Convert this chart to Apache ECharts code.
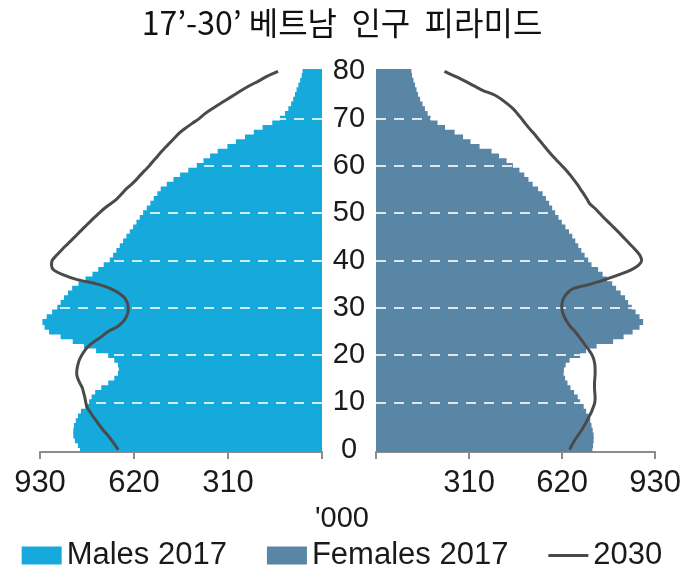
<!DOCTYPE html>
<html>
<head>
<meta charset="utf-8">
<script src="https://cdn.jsdelivr.net/npm/echarts@6/dist/echarts.min.js"></script>
<style>
  html, body { margin: 0; padding: 0; background: #fff; }
  #chart { width: 684px; height: 578px; }
</style>
</head>
<body>
<div id="chart"></div>
<script>
// ages 0..80, bottom to top
var ages = ['0','1','2','3','4','5','6','7','8','9','10','11','12','13','14','15','16','17','18','19','20',
  '21','22','23','24','25','26','27','28','29','30','31','32','33','34','35','36','37','38','39','40',
  '41','42','43','44','45','46','47','48','49','50','51','52','53','54','55','56','57','58','59','60',
  '61','62','63','64','65','66','67','68','69','70','71','72','73','74','75','76','77','78','79','80']
var ageTicks = ['0','10','20','30','40','50','60','70','80']
var gridAges = ['10','20','30','40','50','60','70']
var popTicks = [310, 620, 930]

// '000, index = age
var males2017 = [798,805,815,820,820,818,812,805,795,780,768,760,748,728,705,685,673,670,673,685,705,
  745,785,822,862,900,915,922,908,890,873,862,851,838,824,803,780,757,738,720,700,
  689,678,667,656,645,634,623,612,601,590,578,566,555,543,532,512,490,468,441,413,
  391,369,344,312,284,254,225,196,164,139,122,111,102,95,89,84,78,72,67,64]
var females2017 = [721,723,725,725,722,718,714,708,700,692,680,672,660,648,638,630,625,626,632,645,680,
  700,735,790,825,855,878,890,878,865,852,840,830,815,800,787,770,755,740,718,707,
  695,684,674,664,654,643,631,619,608,597,587,577,566,555,540,522,508,494,478,456,
  435,410,385,345,315,290,262,230,205,182,172,163,155,147,140,135,130,125,120,118]
var males2030 = [672,683,694,706,720,732,743,755,765,775,779,782,786,790,798,805,809,808,805,800,792,
  782,768,748,725,705,675,657,646,640,639,642,650,668,695,740,810,855,885,892,890,
  877,862,847,831,815,800,784,768,752,735,718,697,677,662,648,630,614,600,585,570,
  557,543,530,515,500,485,470,450,428,405,387,365,340,315,290,265,238,208,180,145]
var females2030 = [645,653,662,673,684,693,702,710,718,724,729,730,729,728,728,729,730,730,729,726,720,
  710,698,687,675,663,648,637,628,622,619,620,625,636,655,715,765,810,850,875,885,
  880,868,853,838,823,808,792,776,760,745,730,712,703,693,682,672,660,648,635,620,
  605,590,576,563,550,537,524,510,497,485,472,458,440,420,395,355,325,295,262,228]

var maleColor = '#16a9dc'
var femaleColor = '#5a86a6'
var lineColor = '#4a4a4a'
var font = "'Liberation Sans', Arial, sans-serif"

var chart = echarts.init(document.getElementById('chart'))

// white dashed gridlines drawn over the bars
function gridMarks() {
  return {
    silent: true,
    symbol: 'none',
    label: { show: false },
    lineStyle: { color: '#ffffff', opacity: 0.8, type: [10, 8], width: 2 },
    data: gridAges.map(function (a) { return { yAxis: a } })
  }
}

function popAxis(idx, inverse) {
  return {
    type: 'value',
    gridIndex: idx,
    inverse: inverse,
    min: 0,
    max: 930,
    interval: 310,
    splitLine: { show: false },
    axisLine: { show: true, lineStyle: { color: '#8c8c8c', width: 2 } },
    axisTick: { show: true, length: 7, lineStyle: { color: '#8c8c8c', width: 2 } },
    axisLabel: {
      margin: 16,
      fontSize: 31,
      color: '#1a1a1a',
      fontFamily: font,
      formatter: function (v) { return popTicks.indexOf(v) >= 0 ? String(v) : '' }
    }
  }
}

chart.setOption({
  animation: false,
  title: [{
    text: '17’-30’ 베트남  인구  피라미드',
    left: 'center',
    top: 2,
    textStyle: { fontFamily: "'Noto Sans CJK KR', sans-serif", fontWeight: 'normal', fontSize: 32, color: '#111' }
  }, {
    text: "'000",
    left: 'center',
    top: 499,
    textStyle: { fontFamily: font, fontWeight: 'normal', fontSize: 29, color: '#1a1a1a' }
  }],
  legend: {
    bottom: 2,
    left: 'center',
    itemWidth: 40,
    itemHeight: 18,
    itemGap: 40,
    textStyle: { fontFamily: font, fontSize: 31, color: '#1a1a1a' },
    data: [
      { name: 'Males 2017', icon: 'rect' },
      { name: 'Females 2017', icon: 'rect' },
      { name: '2030', icon: 'path://M0,0H40V3H0Z' }
    ]
  },
  grid: [
    { left: 40, right: 362, top: 69, height: 383 },
    { left: 376, right: 27, top: 69, height: 383 }
  ],
  xAxis: [popAxis(0, true), popAxis(1, false)],
  yAxis: [{
    type: 'category',
    gridIndex: 0,
    data: ages,
    position: 'right',
    axisLine: { show: false },
    axisTick: { show: false },
    axisLabel: {
      interval: 0,
      margin: 27,
      align: 'center',
      fontSize: 29,
      color: '#1a1a1a',
      fontFamily: font,
      formatter: function (v) { return ageTicks.indexOf(v) >= 0 ? v : '' }
    }
  }, {
    type: 'category',
    gridIndex: 1,
    data: ages,
    axisLine: { show: false },
    axisTick: { show: false },
    axisLabel: { show: false }
  }],
  series: [{
    name: 'Males 2017',
    type: 'bar',
    xAxisIndex: 0,
    yAxisIndex: 0,
    barWidth: 6,
    itemStyle: { color: maleColor },
    data: males2017,
    markLine: gridMarks(),
    z: 2
  }, {
    name: 'Females 2017',
    type: 'bar',
    xAxisIndex: 1,
    yAxisIndex: 1,
    barWidth: 6,
    itemStyle: { color: femaleColor },
    data: females2017,
    markLine: gridMarks(),
    z: 2
  }, {
    name: '2030',
    type: 'line',
    xAxisIndex: 0,
    yAxisIndex: 0,
    symbol: 'none',
    smooth: 0.3,
    color: lineColor,
    lineStyle: { color: lineColor, width: 3 },
    data: males2030,
    z: 5
  }, {
    name: '2030',
    type: 'line',
    xAxisIndex: 1,
    yAxisIndex: 1,
    symbol: 'none',
    smooth: 0.3,
    color: lineColor,
    lineStyle: { color: lineColor, width: 3 },
    data: females2030,
    z: 5
  }]
})
</script>
</body>
</html>
